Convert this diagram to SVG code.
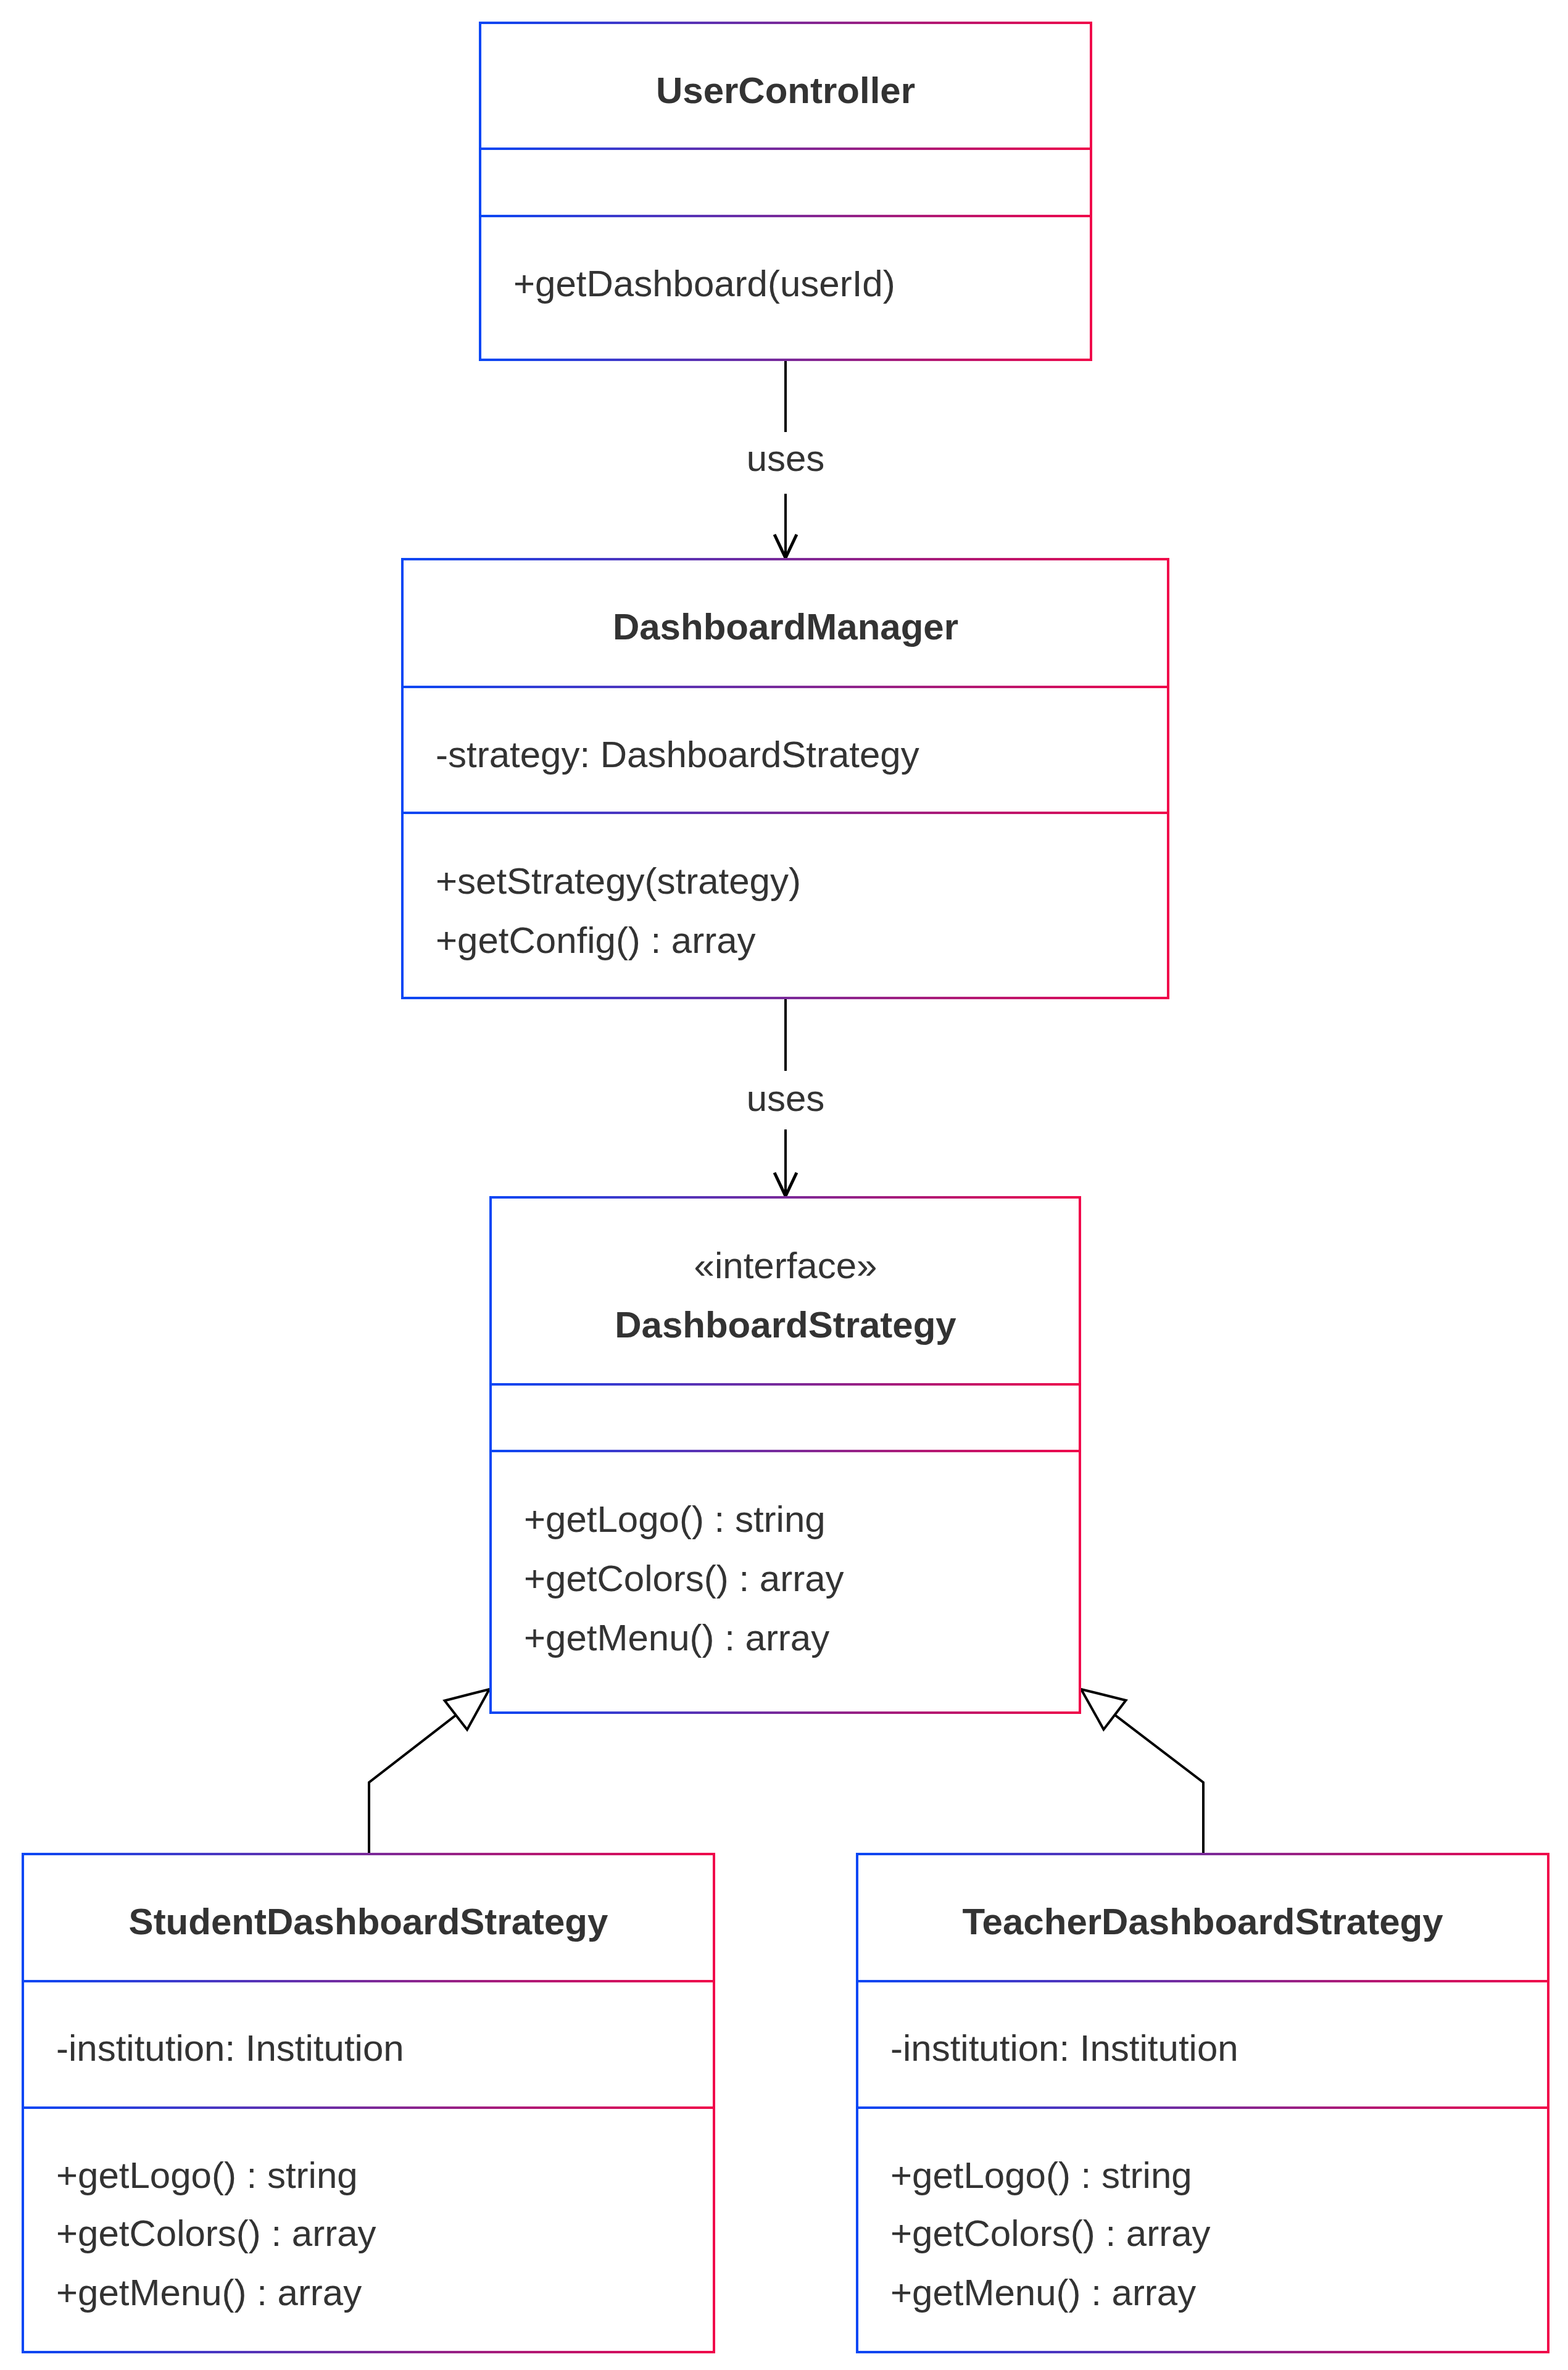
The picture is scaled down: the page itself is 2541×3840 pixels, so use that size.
<svg xmlns="http://www.w3.org/2000/svg" width="2541" height="3840" viewBox="0 0 2541 3840">
<defs>
<linearGradient id="g" x1="0" y1="0" x2="1" y2="0"><stop offset="0" stop-color="#0a47f5"/><stop offset="0.5" stop-color="#7a2a9a"/><stop offset="1" stop-color="#f0064a"/></linearGradient>
<marker id="open" markerUnits="userSpaceOnUse" markerWidth="60" markerHeight="60" refX="40" refY="20" orient="auto" viewBox="0 0 60 40"><path d="M2,2 L40,20 L2,38" fill="none" stroke="#000" stroke-width="5"/></marker>
<marker id="tri" markerUnits="userSpaceOnUse" markerWidth="80" markerHeight="80" refX="62" refY="30" orient="auto" viewBox="0 0 70 60"><path d="M2,4 L62,30 L2,56 Z" fill="#fff" stroke="#000" stroke-width="3.5"/></marker>
<style>
.box{fill:#fff;stroke:url(#g);stroke-width:4}
.div{fill:url(#g)}
text{font-family:"Liberation Sans",Arial,sans-serif;fill:#333;font-size:60px}
.t{font-weight:bold;text-anchor:middle}
.c{text-anchor:middle}
.e{fill:none;stroke:#000;stroke-width:4}
</style>
</defs>
<g id="connectors">
<path class="e" d="M1273,583 L1273,700"/><path class="e" d="M1273,800 L1273,904" marker-end="url(#open)"/>
<text class="c" x="1273" y="763">uses</text>
<path class="e" d="M1273,1617 L1273,1735"/><path class="e" d="M1273,1830 L1273,1938" marker-end="url(#open)"/>
<text class="c" x="1273" y="1800">uses</text>
<path class="e" d="M598,3004 L598,2888 L793,2737" marker-end="url(#tri)"/>
<path class="e" d="M1950,3004 L1950,2888 L1752,2737" marker-end="url(#tri)"/>
</g>
<g id="UserController">
<rect class="box" x="778" y="37" width="990" height="546"/>
<rect class="div" x="778" y="239" width="990" height="4"/><rect class="div" x="778" y="348" width="990" height="4"/>
<text class="t" x="1273" y="167">UserController</text>
<text x="832" y="480">+getDashboard(userId)</text>
</g>
<g id="DashboardManager">
<rect class="box" x="652" y="906" width="1241" height="711"/>
<rect class="div" x="652" y="1111" width="1241" height="4"/><rect class="div" x="652" y="1315" width="1241" height="4"/>
<text class="t" x="1273" y="1036">DashboardManager</text>
<text x="706" y="1243">-strategy: DashboardStrategy</text>
<text x="706" y="1448">+setStrategy(strategy)</text>
<text x="706" y="1544">+getConfig() : array</text>
</g>
<g id="DashboardStrategy">
<rect class="box" x="795" y="1940" width="955" height="835"/>
<rect class="div" x="795" y="2241" width="955" height="4"/><rect class="div" x="795" y="2349" width="955" height="4"/>
<text class="c" x="1273" y="2071">«interface»</text>
<text class="t" x="1273" y="2167">DashboardStrategy</text>
<text x="849" y="2482">+getLogo() : string</text>
<text x="849" y="2578">+getColors() : array</text>
<text x="849" y="2674">+getMenu() : array</text>
</g>
<g id="StudentDashboardStrategy">
<rect class="box" x="37" y="3004" width="1120" height="807"/>
<rect class="div" x="37" y="3208" width="1120" height="4"/><rect class="div" x="37" y="3413" width="1120" height="4"/>
<text class="t" x="597" y="3134">StudentDashboardStrategy</text>
<text x="91" y="3339">-institution: Institution</text>
<text x="91" y="3545">+getLogo() : string</text>
<text x="91" y="3639">+getColors() : array</text>
<text x="91" y="3735">+getMenu() : array</text>
</g>
<g id="TeacherDashboardStrategy">
<rect class="box" x="1389" y="3004" width="1120" height="807"/>
<rect class="div" x="1389" y="3208" width="1120" height="4"/><rect class="div" x="1389" y="3413" width="1120" height="4"/>
<text class="t" x="1949" y="3134">TeacherDashboardStrategy</text>
<text x="1443" y="3339">-institution: Institution</text>
<text x="1443" y="3545">+getLogo() : string</text>
<text x="1443" y="3639">+getColors() : array</text>
<text x="1443" y="3735">+getMenu() : array</text>
</g>
</svg>
